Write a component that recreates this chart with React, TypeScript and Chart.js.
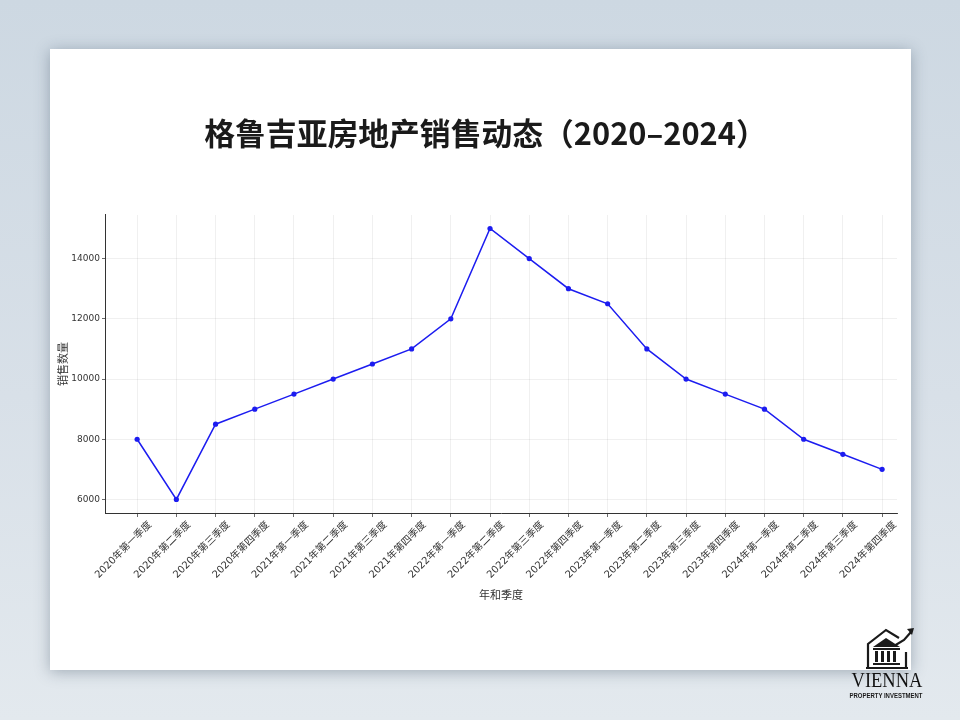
import React, { useEffect, useRef } from "react";
import { Chart, registerables } from "chart.js";

Chart.register(...registerables);

const quarterLabels: string[] = [
  "2020年第一季度", "2020年第二季度", "2020年第三季度", "2020年第四季度",
  "2021年第一季度", "2021年第二季度", "2021年第三季度", "2021年第四季度",
  "2022年第一季度", "2022年第二季度", "2022年第三季度", "2022年第四季度",
  "2023年第一季度", "2023年第二季度", "2023年第三季度", "2023年第四季度",
  "2024年第一季度", "2024年第二季度", "2024年第三季度", "2024年第四季度",
];

const salesValues: number[] = [
  8000, 6000, 8500, 9000,
  9500, 10000, 10500, 11000,
  12000, 15000, 14000, 13000,
  12500, 11000, 10000, 9500,
  9000, 8000, 7500, 7000,
];

const yTickValues: number[] = [6000, 8000, 10000, 12000, 14000];

const chartTitle = "格鲁吉亚房地产销售动态（2020–2024）";
const xAxisTitle = "年和季度";
const yAxisTitle = "销售数量";

function Logo() {
  return (
    <div style={{ position: "absolute", left: 842, top: 626, width: 90, height: 80 }}>
      <svg width="90" height="46" viewBox="0 0 90 46" style={{ position: "absolute", left: 0, top: 0 }}>
        <rect x="22" y="2" width="47" height="42" fill="#ffffff" />
        <g fill="none" stroke="#1a1a1a" strokeWidth="2.2" strokeLinejoin="miter">
          <polyline points="26,42 26,18 44,4 57,12" />
          <line x1="64" y1="26" x2="64" y2="42" />
          <line x1="24" y1="42" x2="66" y2="42" />
          <polyline points="52,20 62,14 69,6" />
        </g>
        <polygon points="65,3 72,2 70,9" fill="#1a1a1a" />
        <polygon points="31,21 44,12 58,21" fill="#1a1a1a" />
        <rect x="31" y="22" width="27" height="2" fill="#1a1a1a" />
        <rect x="33" y="25" width="3" height="11" fill="#1a1a1a" />
        <rect x="39" y="25" width="3" height="11" fill="#1a1a1a" />
        <rect x="45" y="25" width="3" height="11" fill="#1a1a1a" />
        <rect x="51" y="25" width="3" height="11" fill="#1a1a1a" />
        <rect x="31" y="37" width="27" height="2" fill="#1a1a1a" />
      </svg>
      <div style={{
        position: "absolute", left: 0, top: 43, width: 90, textAlign: "center",
        fontFamily: "'Liberation Serif', 'DejaVu Serif', serif", fontSize: 21,
        color: "#111111", lineHeight: "22px", transform: "scaleX(0.88)",
      }}>VIENNA</div>
      <div style={{
        position: "absolute", left: -1, top: 65, width: 90, textAlign: "center",
        fontFamily: "'Liberation Sans', Arial, sans-serif", fontSize: 6.5, fontWeight: 600,
        color: "#1a1a1a", lineHeight: "9px", transform: "scaleX(0.92)",
      }}>PROPERTY INVESTMENT</div>
    </div>
  );
}

export default function App() {
  const canvasRef = useRef<HTMLCanvasElement | null>(null);

  useEffect(() => {
    const canvas = canvasRef.current;
    if (!canvas) return;
    const points = salesValues.map((v, i) => ({ x: i, y: v }));
    const chart = new Chart(canvas, {
      type: "line",
      data: {
        datasets: [
          {
            data: points,
            borderColor: "#1c1cf0",
            backgroundColor: "#1c1cf0",
            borderWidth: 1.5,
            pointRadius: 2.6,
            pointBorderWidth: 0,
            pointHoverRadius: 3,
            tension: 0,
            fill: false,
          },
        ],
      },
      options: {
        animation: false,
        responsive: false,
        maintainAspectRatio: false,
        layout: { padding: { left: 0, right: 0, top: 0, bottom: 57 } },
        plugins: {
          legend: { display: false },
          tooltip: { enabled: false },
          title: {
            display: true,
            text: chartTitle,
            color: "#1a1a1a",
            font: { family: "'Noto Sans CJK SC', 'Noto Sans', sans-serif", size: 30.8, weight: "bold", lineHeight: 1.2 },
            padding: { top: 66, bottom: 63 },
          },
        },
        scales: {
          x: {
            type: "linear",
            min: -0.82,
            max: 19.38,
            afterBuildTicks: (scale: any) => {
              scale.ticks = quarterLabels.map((_, i) => ({ value: i }));
            },
            afterFit: (scale: any) => {
              scale.height = 100;
            },
            ticks: {
              autoSkip: false,
              minRotation: 45,
              maxRotation: 45,
              padding: 2,
              labelOffset: 13,
              color: "#333333",
              font: { family: "'DejaVu Sans', 'Noto Sans CJK SC', sans-serif", size: 10 },
              callback: (v: any) => quarterLabels[Math.round(Number(v))] ?? "",
            },
            grid: {
              color: "rgba(0,0,0,0.08)",
              lineWidth: 0.8,
              drawTicks: true,
              tickLength: 4,
              tickColor: "#444444",
            },
            border: { display: true, color: "#333333", width: 1 },
            title: {
              display: true,
              text: xAxisTitle,
              color: "#333333",
              font: { family: "'Noto Sans CJK SC', sans-serif", size: 11 },
              padding: { top: 0, bottom: 12 },
            },
          },
          y: {
            type: "linear",
            min: 5550,
            max: 15450,
            afterBuildTicks: (scale: any) => {
              scale.ticks = yTickValues.map((v) => ({ value: v }));
            },
            afterFit: (scale: any) => {
              scale.width = 55;
            },
            ticks: {
              padding: 2,
              color: "#333333",
              font: { family: "'DejaVu Sans', sans-serif", size: 9 },
              callback: (v: any) => String(v),
            },
            grid: {
              color: "rgba(0,0,0,0.08)",
              lineWidth: 0.8,
              drawTicks: true,
              tickLength: 3,
              tickColor: "#444444",
            },
            border: { display: true, color: "#333333", width: 1 },
            title: {
              display: true,
              text: yAxisTitle,
              color: "#333333",
              font: { family: "'Noto Sans CJK SC', sans-serif", size: 11 },
              padding: { top: 6, bottom: 0 },
            },
          },
          yRightSpace: {
            type: "linear",
            position: "right",
            display: true,
            min: 5550,
            max: 15450,
            afterFit: (scale: any) => {
              scale.width = 24;
            },
            ticks: { display: false },
            grid: { display: false, drawTicks: false },
            border: { display: false },
          },
        },
      },
    });
    return () => chart.destroy();
  }, []);

  return (
    <div style={{
      position: "fixed", left: 0, top: 0, width: 960, height: 720, overflow: "hidden",
      background: "linear-gradient(180deg, #cdd8e2 0%, #d8e0e8 55%, #e3e9ee 100%)",
    }}>
      <div style={{
        position: "absolute", left: 50, top: 49, width: 861, height: 621,
        background: "#ffffff", boxShadow: "0 2px 14px rgba(40,60,80,0.35)",
      }}>
        <canvas ref={canvasRef} width={871} height={621} style={{ width: 871, height: 621, display: "block", position: "absolute", left: 0, top: 0 }} />
      </div>
      <Logo />
    </div>
  );
}
